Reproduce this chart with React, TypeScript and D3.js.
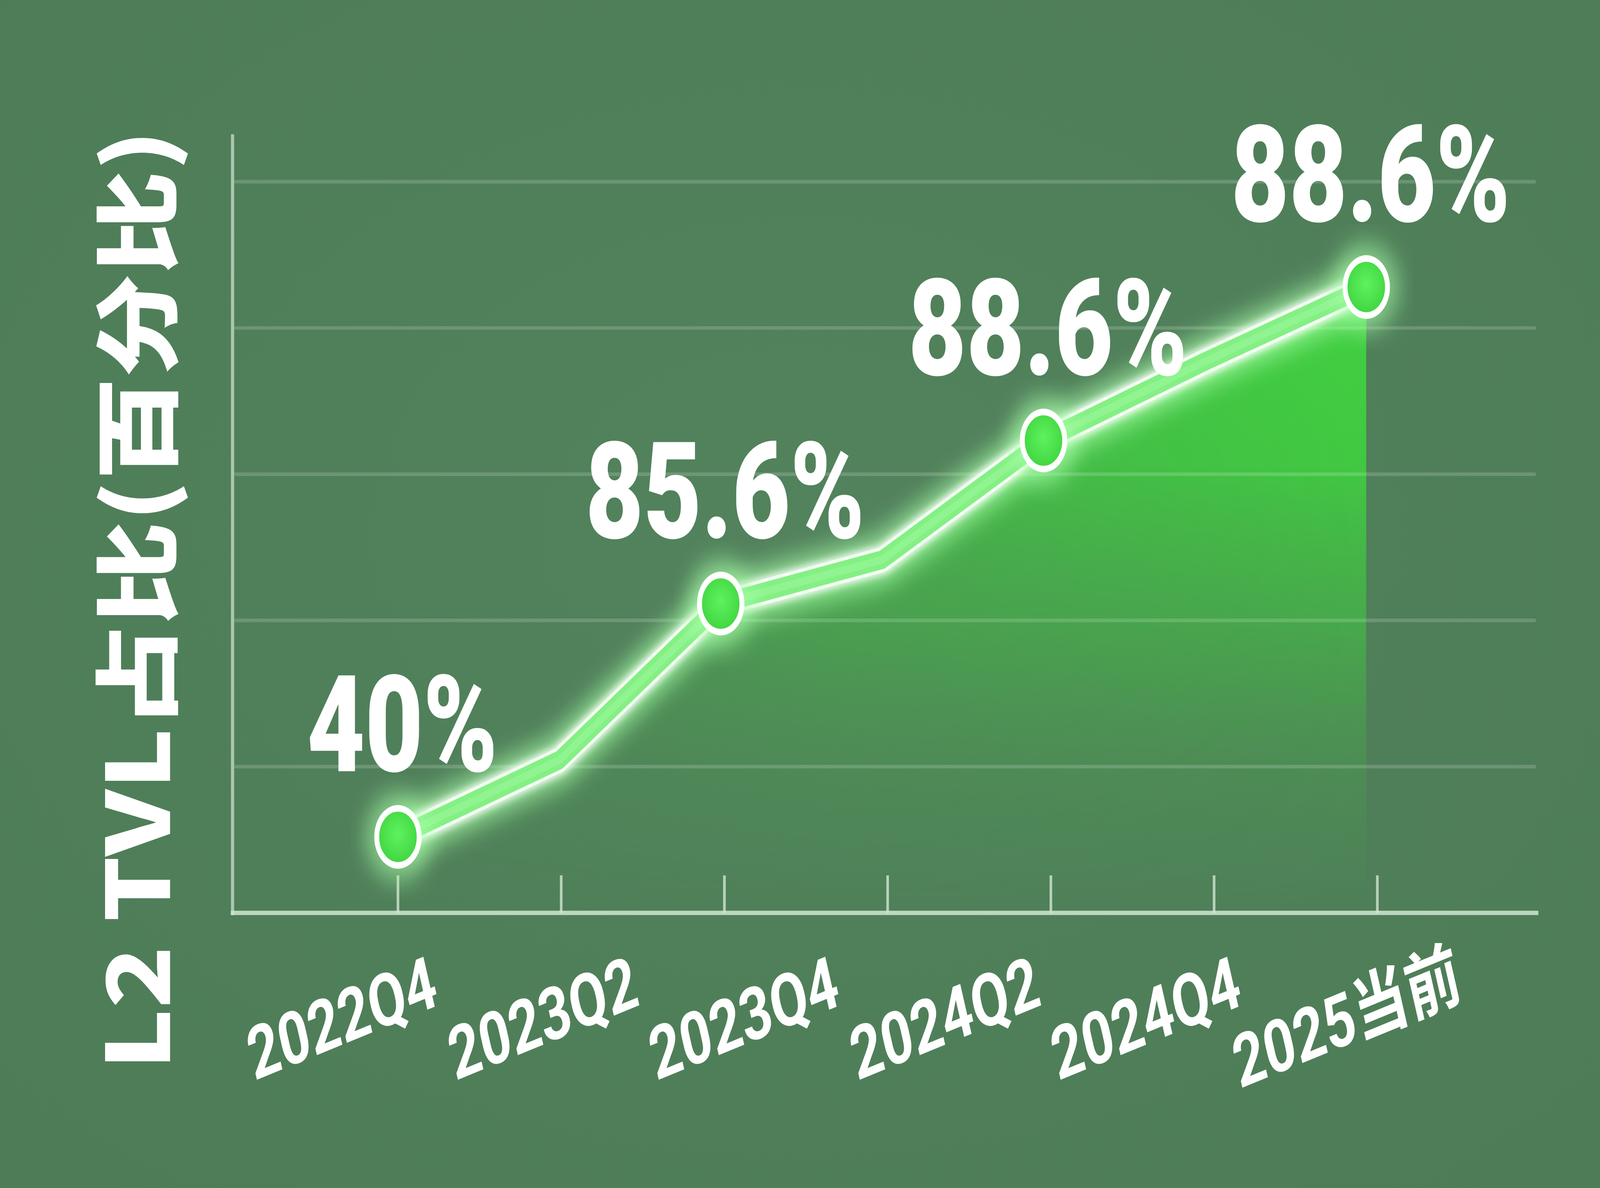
import React, { useEffect } from "react";
import * as d3 from "d3";

const W = 5504;
const H = 3040;

// ---- data ----
const tickLabels = ["2022Q4", "2023Q2", "2023Q4", "2024Q2", "2024Q4", "2025当前"];
const seriesValues = [10.4, 20.9, 42.3, 48.3, 64.6, 75.4, 85.6];
const valueLabels: (string | null)[] = ["40%", null, "85.6%", null, "88.6%", null, "88.6%"];
const gridValues = [20, 40, 60, 80, 100];
const yTitle = "L2 TVL占比(百分比)";

const TICK_FONT = "Roboto, 'Liberation Sans', 'Noto Sans CJK SC', sans-serif";
const VALUE_FONT = "Roboto, 'Liberation Sans', sans-serif";
const TITLE_FONT = "'Noto Sans CJK SC', 'Liberation Sans', sans-serif";

export default function App() {
  useEffect(() => {
    document.body.style.margin = "0";
    document.body.style.overflow = "hidden";
    document.body.style.background = "#50805a";
  }, []);

  const idx = d3.range(seriesValues.length);
  const y = d3.scaleLinear().domain([0, 100]).range([2336, 465]);
  const xPts = d3.scalePoint<number>().domain(idx).range([1369, 4700]);
  const xTicks = d3.scalePoint<number>().domain(idx).range([1369, 4738]);
  const xLab = d3.scalePoint<string>().domain(tickLabels).range([1195, 4651]);

  const axisLeft = 800;
  const axisRight = 5292;
  const y0 = y(0);

  const line = d3
    .line<number>()
    .x((_, i) => xPts(i) as number)
    .y((d) => y(d));
  const area = d3
    .area<number>()
    .x((_, i) => xPts(i) as number)
    .y0(y0)
    .y1((d) => y(d));

  const linePath = line(seriesValues) || "";
  const areaPath = area(seriesValues) || "";
  const lastX = xPts(idx.length - 1) as number;
  const firstX = xPts(0) as number;

  return (
    <svg
      viewBox={`0 0 ${W} ${H}`}
      preserveAspectRatio="none"
      style={{ display: "block", width: "100vw", height: "100vh", position: "fixed", left: 0, top: 0 }}
    >
      <defs>
        <radialGradient id="bg" cx="50%" cy="45%" r="75%">
          <stop offset="0%" stopColor="#52835c" />
          <stop offset="100%" stopColor="#4d7c57" />
        </radialGradient>
        <linearGradient id="areaV" gradientUnits="userSpaceOnUse" x1="0" y1={y(88)} x2="0" y2={y0}>
          <stop offset="0%" stopColor="#40d240" stopOpacity={1} />
          <stop offset="30%" stopColor="#40cf40" stopOpacity={0.92} />
          <stop offset="55%" stopColor="#42c442" stopOpacity={0.6} />
          <stop offset="78%" stopColor="#46b846" stopOpacity={0.22} />
          <stop offset="100%" stopColor="#46b846" stopOpacity={0} />
        </linearGradient>
        <linearGradient id="areaH" gradientUnits="userSpaceOnUse" x1={firstX} y1="0" x2={lastX} y2="0">
          <stop offset="0%" stopColor="#fff" stopOpacity={0.22} />
          <stop offset="45%" stopColor="#fff" stopOpacity={0.72} />
          <stop offset="100%" stopColor="#fff" stopOpacity={1} />
        </linearGradient>
        <mask id="areaMask" maskUnits="userSpaceOnUse" x="0" y="0" width={W} height={H}>
          <rect x={firstX} y={0} width={lastX - firstX} height={H} fill="url(#areaH)" />
        </mask>
        <radialGradient id="dot" cx="50%" cy="45%" r="55%">
          <stop offset="0%" stopColor="#5ff25f" />
          <stop offset="100%" stopColor="#3fd43f" />
        </radialGradient>
        <filter id="glow" x="-20%" y="-20%" width="140%" height="140%">
          <feGaussianBlur stdDeviation="30" />
        </filter>
        <filter id="glowSoft" x="-20%" y="-20%" width="140%" height="140%">
          <feGaussianBlur stdDeviation="10" />
        </filter>
      </defs>

      <rect x={0} y={0} width={W} height={H} fill="url(#bg)" />

      {/* area */}
      <path d={areaPath} fill="url(#areaV)" mask="url(#areaMask)" />

      {/* grid */}
      {gridValues.map((g) => (
        <line
          key={g}
          x1={axisLeft + 6}
          x2={5283}
          y1={y(g)}
          y2={y(g)}
          stroke="#ffffff"
          strokeOpacity={0.17}
          strokeWidth={9}
        />
      ))}

      {/* axes */}
      <line x1={axisLeft} x2={axisLeft} y1={y(106.5)} y2={y0 + 6} stroke="#c9dfc9" strokeOpacity={0.75} strokeWidth={11} />
      <line x1={axisLeft - 6} x2={axisRight} y1={y0} y2={y0} stroke="#d2e6d2" strokeOpacity={0.85} strokeWidth={11} />
      {idx.map((i) => (
        <line
          key={i}
          x1={xTicks(i)}
          x2={xTicks(i)}
          y1={y0 - 96}
          y2={y0}
          stroke="#d2e6d2"
          strokeOpacity={0.8}
          strokeWidth={9}
        />
      ))}

      {/* line glow + tube */}
      <path d={linePath} fill="none" stroke="#a8ffa8" strokeOpacity={0.7} strokeWidth={130} strokeLinejoin="round" filter="url(#glow)" />
      <path d={linePath} fill="none" stroke="#ffffff" strokeOpacity={0.9} strokeWidth={76} strokeLinejoin="miter" filter="url(#glowSoft)" />
      <path d={linePath} fill="none" stroke="#f4fff4" strokeWidth={64} strokeLinejoin="miter" />
      <path d={linePath} fill="none" stroke="#84f084" strokeWidth={48} strokeLinejoin="miter" />
      <path d={linePath} fill="none" stroke="#9af79a" strokeOpacity={0.55} strokeWidth={20} strokeLinejoin="miter" />

      {/* points */}
      {idx
        .filter((i) => valueLabels[i] !== null)
        .map((i) => (
          <g key={i}>
            <circle cx={xPts(i)} cy={y(seriesValues[i])} r={115} fill="#a8ffa8" fillOpacity={0.55} filter="url(#glow)" />
            <circle cx={xPts(i)} cy={y(seriesValues[i])} r={73} fill="url(#dot)" stroke="#ffffff" strokeWidth={17} />
          </g>
        ))}

      {/* value labels */}
      {idx
        .filter((i) => valueLabels[i] !== null)
        .map((i) => (
          <text
            key={i}
            x={(xPts(i) as number) + 15}
            y={y(seriesValues[i]) - 168}
            textAnchor="middle"
            fill="#ffffff"
            fontFamily={VALUE_FONT}
            fontWeight={900}
            fontSize={345}
          >
            {valueLabels[i]}
          </text>
        ))}

      {/* x tick labels */}
      {tickLabels.map((t) => {
        const cx = xLab(t) as number;
        const cy = 2668;
        return (
          <text
            key={t}
            x={cx}
            y={cy}
            transform={`rotate(-17 ${cx} ${cy})`}
            textAnchor="middle"
            fill="#ffffff"
            fontFamily={TICK_FONT}
            fontWeight={700}
            fontSize={188}
          >
            {t}
          </text>
        );
      })}

      {/* y title */}
      <text
        x={0}
        y={0}
        transform={`translate(585 1535) rotate(-90) scale(0.88 1)`}
        textAnchor="middle"
        fill="#ffffff"
        fontFamily={TITLE_FONT}
        fontWeight={900}
        fontSize={300}
      >
        {yTitle}
      </text>
    </svg>
  );
}
